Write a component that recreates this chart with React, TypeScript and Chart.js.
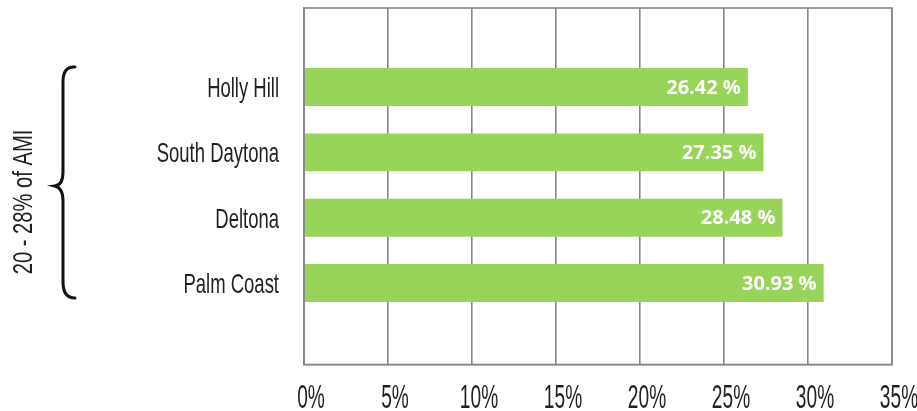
import React, { useEffect, useRef } from "react";
import { Chart, registerables } from "chart.js";

Chart.register(...registerables);

const CATEGORIES = ["Holly Hill", "South Daytona", "Deltona", "Palm Coast"];
const VALUES = [26.42, 27.35, 28.48, 30.93];
const X_TICKS = [0, 5, 10, 15, 20, 25, 30, 35];
const SIDE_LABEL = "20 - 28% of AMI";

const TEXT_FONT = "'Liberation Sans', Arial, sans-serif";
const GRID = "#878787";
const TEXT = "#231f20";
const BAR = "#98d45a";

const fmtX = (v: number) => v + "%";
const fmtValue = (v: number) => v.toFixed(2) + " %";

function condensedText(
  ctx: CanvasRenderingContext2D,
  text: string,
  x: number,
  y: number,
  size: number,
  sx: number,
  align: CanvasTextAlign
) {
  ctx.save();
  ctx.translate(x, y);
  ctx.scale(sx, 1);
  ctx.font = `${size}px ${TEXT_FONT}`;
  ctx.fillStyle = TEXT;
  ctx.textAlign = align;
  ctx.textBaseline = "alphabetic";
  ctx.fillText(text, 0, 0);
  ctx.restore();
}

const framePlugin = {
  id: "frame",
  afterDraw(chart: any) {
    const { ctx, chartArea } = chart;
    ctx.save();
    ctx.strokeStyle = GRID;
    ctx.lineWidth = 1.6;
    ctx.strokeRect(chartArea.left, chartArea.top, chartArea.right - chartArea.left, chartArea.bottom - chartArea.top);
    ctx.restore();
  },
};

const valueLabelPlugin = {
  id: "valueLabels",
  afterDatasetsDraw(chart: any) {
    const { ctx } = chart;
    const meta = chart.getDatasetMeta(0);
    ctx.save();
    ctx.fillStyle = "#ffffff";
    ctx.font = "bold 20px 'Open Sans', sans-serif";
    ctx.textAlign = "right";
    ctx.textBaseline = "middle";
    meta.data.forEach((bar: any, i: number) => {
      ctx.fillText(fmtValue(VALUES[i]), bar.x - 7, bar.y + 1);
    });
    ctx.restore();
  },
};

const axisLabelPlugin = {
  id: "axisLabels",
  afterDraw(chart: any) {
    const { ctx } = chart;
    const ys = chart.scales.y;
    ys.ticks.forEach((t: any, i: number) => {
      const py = ys.getPixelForTick(i);
      condensedText(ctx, CATEGORIES[t.value], 279, py + 10, 28, 0.66, "right");
    });
    const xs = chart.scales.x;
    xs.ticks.forEach((t: any, i: number) => {
      const px = xs.getPixelForTick(i);
      condensedText(ctx, fmtX(t.value), px + 7, 408, 33, 0.58, "center");
    });
  },
};

const bracePlugin = {
  id: "brace",
  afterDraw(chart: any) {
    const { ctx } = chart;
    ctx.save();
    ctx.strokeStyle = "#111";
    ctx.lineWidth = 3;
    ctx.lineCap = "round";
    ctx.beginPath();
    ctx.moveTo(75, 67);
    ctx.quadraticCurveTo(63, 66, 63, 82);
    ctx.lineTo(63, 172);
    ctx.quadraticCurveTo(63, 185, 55, 186);
    ctx.quadraticCurveTo(63, 188, 63, 201);
    ctx.lineTo(63, 282);
    ctx.quadraticCurveTo(63, 298, 75, 298);
    ctx.stroke();

    ctx.translate(21.5, 202);
    ctx.rotate(-Math.PI / 2);
    condensedText(ctx, SIDE_LABEL, 0, 10, 28, 0.72, "center");
    ctx.restore();
  },
};

export default function App() {
  const canvasRef = useRef<HTMLCanvasElement | null>(null);

  useEffect(() => {
    document.body.style.margin = "0";
    const canvas = canvasRef.current;
    if (!canvas) return;
    const chart = new Chart(canvas, {
      type: "bar",
      data: {
        datasets: [
          {
            data: VALUES.map((v, i) => ({ x: v, y: i })),
            backgroundColor: BAR,
            borderWidth: 0,
            barPercentage: 0.58,
            categoryPercentage: 1,
          },
        ],
      },
      options: {
        indexAxis: "y",
        animation: false,
        responsive: false,
        maintainAspectRatio: false,
        layout: { padding: { top: 8, right: 25, left: 0, bottom: 0 } },
        plugins: {
          legend: { display: false },
          tooltip: { enabled: false },
        },
        scales: {
          x: {
            type: "linear",
            offset: false,
            min: X_TICKS[0],
            max: X_TICKS[X_TICKS.length - 1],
            afterBuildTicks(axis: any) {
              axis.ticks = X_TICKS.map((v) => ({ value: v }));
            },
            afterFit(axis: any) {
              axis.height = 46.5;
              axis.paddingLeft = 0;
              axis.paddingRight = 0;
            },
            ticks: { display: false, callback: (v: any) => fmtX(v) },
            grid: { color: GRID, lineWidth: 1.6, drawTicks: false, offset: false },
            border: { color: GRID, width: 1.6 },
          },
          y: {
            type: "linear",
            offset: false,
            reverse: true,
            min: -1.209,
            max: 4.247,
            afterBuildTicks(axis: any) {
              axis.ticks = CATEGORIES.map((_, i) => ({ value: i }));
            },
            afterFit(axis: any) {
              axis.width = 304;
              axis.paddingTop = 0;
              axis.paddingBottom = 0;
            },
            ticks: { display: false, callback: (v: any) => CATEGORIES[v] ?? "" },
            grid: { display: false, drawTicks: false, offset: false },
            border: { color: GRID, width: 1.6 },
          },
        },
      },
      plugins: [framePlugin, valueLabelPlugin, axisLabelPlugin, bracePlugin],
    } as any);
    return () => chart.destroy();
  }, []);

  return (
    <div style={{ width: 917, height: 411, background: "#fff" }}>
      <canvas ref={canvasRef} width={917} height={411} style={{ display: "block" }} />
    </div>
  );
}
